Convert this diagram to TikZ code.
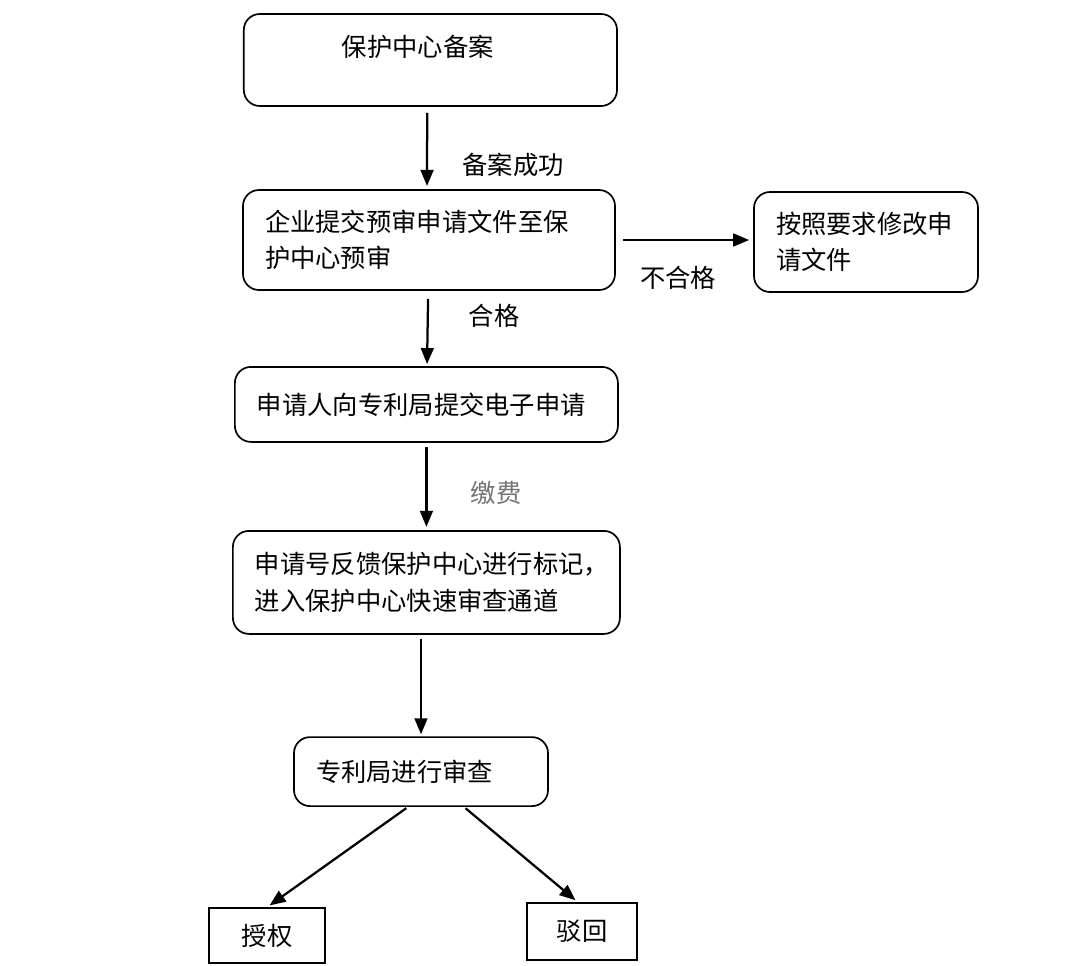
\documentclass[tikz,border=0pt]{standalone}
\usepackage{fontspec}
\setmainfont{Noto Sans CJK SC}
\usetikzlibrary{arrows.meta,calc,positioning}

\begin{document}
\begin{tikzpicture}[
      thick,
      font=\fontsize{18}{26}\selectfont]
    \tikzstyle{rounded box}=[draw,line width=1.2pt,rounded corners=0.4cm,align=left,inner xsep=0.55cm,inner ysep=0.1cm]
    \tikzstyle{plain box}=[draw,line width=1.2pt,align=center,inner sep=0pt]
    \tikzstyle{flow}=[line width=1.6pt,-{Triangle[length=0.4cm,width=0.32cm]},shorten <=0.15cm,shorten >=0.08cm]
    \useasboundingbox (0,0) rectangle (27,-24.125);

    \node [rounded box,text width=8.23cm,text height=0.965cm,text depth=1.135cm] (filing) at (10.76,-1.5) {\hspace*{1.9cm}保护中心备案};
    \node [rounded box,text width=8.2cm,minimum height=2.5cm] (prereview) at (10.725,-6.0) {企业提交预审申请文件至保\\护中心预审};
    \node [rounded box,text width=4.5cm,minimum height=2.5cm] (revise) at (21.65,-6.05) {按照要求修改申\\请文件};
    \node [rounded box,text width=8.475cm,minimum height=1.875cm] (submit) at (10.66,-10.11) {申请人向专利局提交电子申请};
    \node [rounded box,text width=8.575cm,minimum height=2.575cm] (mark) at (10.66,-14.56) {申请号反馈保护中心进行标记，\\进入保护中心快速审查通道};
    \node [rounded box,text width=5.25cm,minimum height=1.725cm] (review) at (10.525,-19.29) {专利局进行审查};
    \node [plain box,minimum width=2.9cm,minimum height=1.375cm] (grant) at (6.675,-23.39) {授权};
    \node [plain box,minimum width=2.75cm,minimum height=1.425cm] (reject) at (14.55,-23.29) {驳回};

    % connectors
    \draw [flow] ([xshift=-0.08cm]filing.south) -- ([xshift=-0.05cm]prereview.north);
    \draw [flow,shorten <=0.18cm,shorten >=0.1cm] (prereview.east) -- (prereview.east -| revise.west);
    \draw [flow,shorten <=0.2cm,shorten >=0.05cm] (prereview) -- (submit);
    \draw [flow,shorten <=0.1cm] (submit) -- (mark);
    \draw [flow,shorten <=0.1cm,shorten >=0.05cm] (review.north |- mark.south) -- (review);
    \draw [flow,shorten <=0.05cm] ([xshift=-0.325cm]review.south) -- (grant.north);
    \draw [flow,shorten <=0.05cm] ([xshift=1.075cm]review.south) -- ([xshift=-0.1cm]reject.north);

    % labels
    \node (filed) at (12.83,-4.125) {备案成功};
    \node (failed) at (16.95,-6.95) {不合格};
    \node (passed) at (12.35,-7.9) {合格};
    \node [text=black!55] (fee) at (12.4,-12.325) {缴费};

  \end{tikzpicture}
\end{document}
